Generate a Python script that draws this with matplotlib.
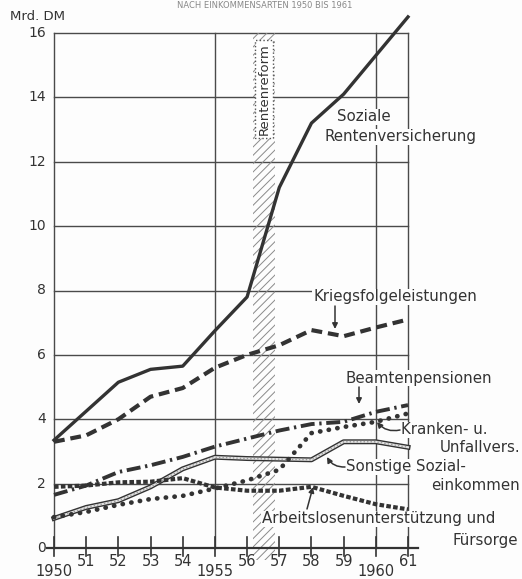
import numpy as np
import matplotlib.pyplot as plt
from matplotlib.patches import Rectangle

plt.rcParams['font.family'] = ['DejaVu Sans']
plt.rcParams['hatch.linewidth'] = 0.7

years = np.arange(1950, 1962)
year_labels = ['1950', '51', '52', '53', '54', '1955', '56', '57', '58', '59', '1960', '61']
y_ticks = [0, 2, 4, 6, 8, 10, 12, 14, 16]

soziale = [3.35, 4.25, 5.15, 5.55, 5.65, 6.75, 7.8, 11.2, 13.2, 14.1, 15.3, 16.5]
kriegsfolge = [3.3, 3.5, 4.0, 4.7, 4.97, 5.6, 6.0, 6.3, 6.77, 6.58, 6.85, 7.1]
beamten = [1.65, 1.94, 2.36, 2.57, 2.83, 3.15, 3.4, 3.65, 3.85, 3.92, 4.23, 4.44]
kranken = [0.96, 1.12, 1.34, 1.52, 1.62, 1.85, 2.1, 2.43, 3.57, 3.76, 3.92, 4.18]
sonstige = [0.92, 1.26, 1.47, 1.9, 2.46, 2.82, 2.78, 2.76, 2.74, 3.3, 3.3, 3.13]
arbeitslos = [1.9, 1.94, 2.04, 2.06, 2.17, 1.88, 1.78, 1.78, 1.9, 1.62, 1.36, 1.2]

reform = (1956.18, 1956.86)

INK = '#333333'
GRID = '#4a4a4a'
BG = '#fdfdfd'

W, H = 522, 579
# pixel -> data helpers (whole figure is one axes)
kx = 354 / 11.0
ky = 515 / 16.0
x0 = 1950 - 54 / kx
y_top = 548 / ky


def px(x):
    return x0 + x / kx


def py(y):
    return (548 - y) / ky


fig = plt.figure(figsize=(W / 100, H / 100), dpi=100, facecolor=BG)
ax = fig.add_axes([0, 0, 1, 1])
ax.set_xlim(x0, x0 + W / kx)
ax.set_ylim(y_top - H / ky, y_top)
ax.axis('off')

# frame and grid
for v in y_ticks[1:]:
    ax.plot([1950, 1961], [v, v], color=GRID, lw=1.0, zorder=1)
for yr in [1950, 1955, 1960, 1961]:
    ax.plot([yr, yr], [0, 16], color=GRID, lw=1.0, zorder=1)
ax.plot([px(47), px(418)], [0, 0], color=INK, lw=1.6, zorder=2)
for yr in years:
    ax.plot([yr, yr], [py(556), py(537)], color=INK, lw=1.2, zorder=2)

# Rentenreform band
ax.add_patch(Rectangle((reform[0], py(560)), reform[1] - reform[0], 16 - py(560),
                       facecolor='none', edgecolor='#8a8a8a', hatch='////', lw=0, zorder=1.5))
ax.text(np.mean(reform), py(89), 'Rentenreform', rotation=90, ha='center', va='center',
        fontsize=9.5, color=INK,
        bbox=dict(boxstyle='square,pad=0.2', fc='white', ec='#555555', ls=':', lw=1.0),
        zorder=3)

# series
ax.plot(years, soziale, color=INK, lw=2.4, solid_joinstyle='round', zorder=5, clip_on=False)
ax.plot(years, kriegsfolge, color=INK, lw=3.0, ls=(0, (2.6, 1.4)), zorder=5)
ax.plot(years, beamten, color=INK, lw=2.8, ls=(0, (3.6, 1.2, 0.6, 1.2)), zorder=5)
ax.plot(years, kranken, color=INK, lw=3.4, ls=(0, (0.05, 1.8)), dash_capstyle='round', zorder=5)
ax.plot(years, sonstige, color=INK, lw=3.6, zorder=4)
ax.plot(years, sonstige, color='#e4e4e4', lw=1.6, zorder=4.1)
ax.plot(years, sonstige, color='#9a9a9a', lw=1.0, ls=(0, (1, 1.5)), zorder=4.2)
ax.plot(years, arbeitslos, color=INK, lw=3.0, ls=(0, (1.1, 0.55)), zorder=5)

# axis labels
for v in y_ticks:
    ax.text(px(46), v, str(v), ha='right', va='center', fontsize=10, color=INK)
ax.text(px(10), py(16), 'Mrd. DM', ha='left', va='center', fontsize=9.5, color=INK)
for yr, lab in zip(years, year_labels):
    low = len(lab) == 4
    ax.text(yr, py(572 if low else 562), lab, ha='center', va='center', fontsize=10.5, color=INK)

ax.text(px(265), py(1), 'NACH EINKOMMENSARTEN 1950 BIS 1961', ha='center', va='top',
        fontsize=6, color='#888888')

# series labels (white backing breaks the grid lines behind them)
fs = 10.8
lab = dict(va='center', fontsize=fs, color=INK, zorder=3,
           bbox=dict(boxstyle='square,pad=0.05', fc=BG, ec='none'))
ax.text(px(364), py(117), 'Soziale', ha='center', **lab)
ax.text(px(400), py(137), 'Rentenversicherung', ha='center', **lab)
ax.text(px(395), py(297), 'Kriegsfolgeleistungen', ha='center', **lab)
ax.text(px(419), py(378), 'Beamtenpensionen', ha='center', **lab)
ax.text(px(401), py(430), 'Kranken- u.', ha='left', **lab)
ax.text(px(520), py(448), 'Unfallvers.', ha='right', **lab)
ax.text(px(346), py(467), 'Sonstige Sozial-', ha='left', **lab)
ax.text(px(520), py(486), 'einkommen', ha='right', **lab)
ax.text(px(262), py(519), 'Arbeitslosenunterstützung und', ha='left', **lab)
ax.text(px(518), py(540), 'Fürsorge', ha='right', **lab)

arrow = dict(arrowstyle='-|>', color=INK, lw=1.1, mutation_scale=8, shrinkA=0, shrinkB=0)
ax.annotate('', xy=(px(335), py(329)), xytext=(px(335), py(306)), arrowprops=arrow)
ax.annotate('', xy=(px(359), py(404)), xytext=(px(359), py(387)), arrowprops=arrow)
ax.annotate('', xy=(px(377), py(422)), xytext=(px(400), py(430)),
            arrowprops=dict(arrow, connectionstyle='arc3,rad=-0.3'))
ax.annotate('', xy=(px(327), py(457)), xytext=(px(345), py(467)),
            arrowprops=dict(arrow, connectionstyle='arc3,rad=-0.3'))
ax.annotate('', xy=(px(313), py(487)), xytext=(px(307), py(509)), arrowprops=arrow)

fig.savefig('out.png', dpi=100, facecolor=fig.get_facecolor())
